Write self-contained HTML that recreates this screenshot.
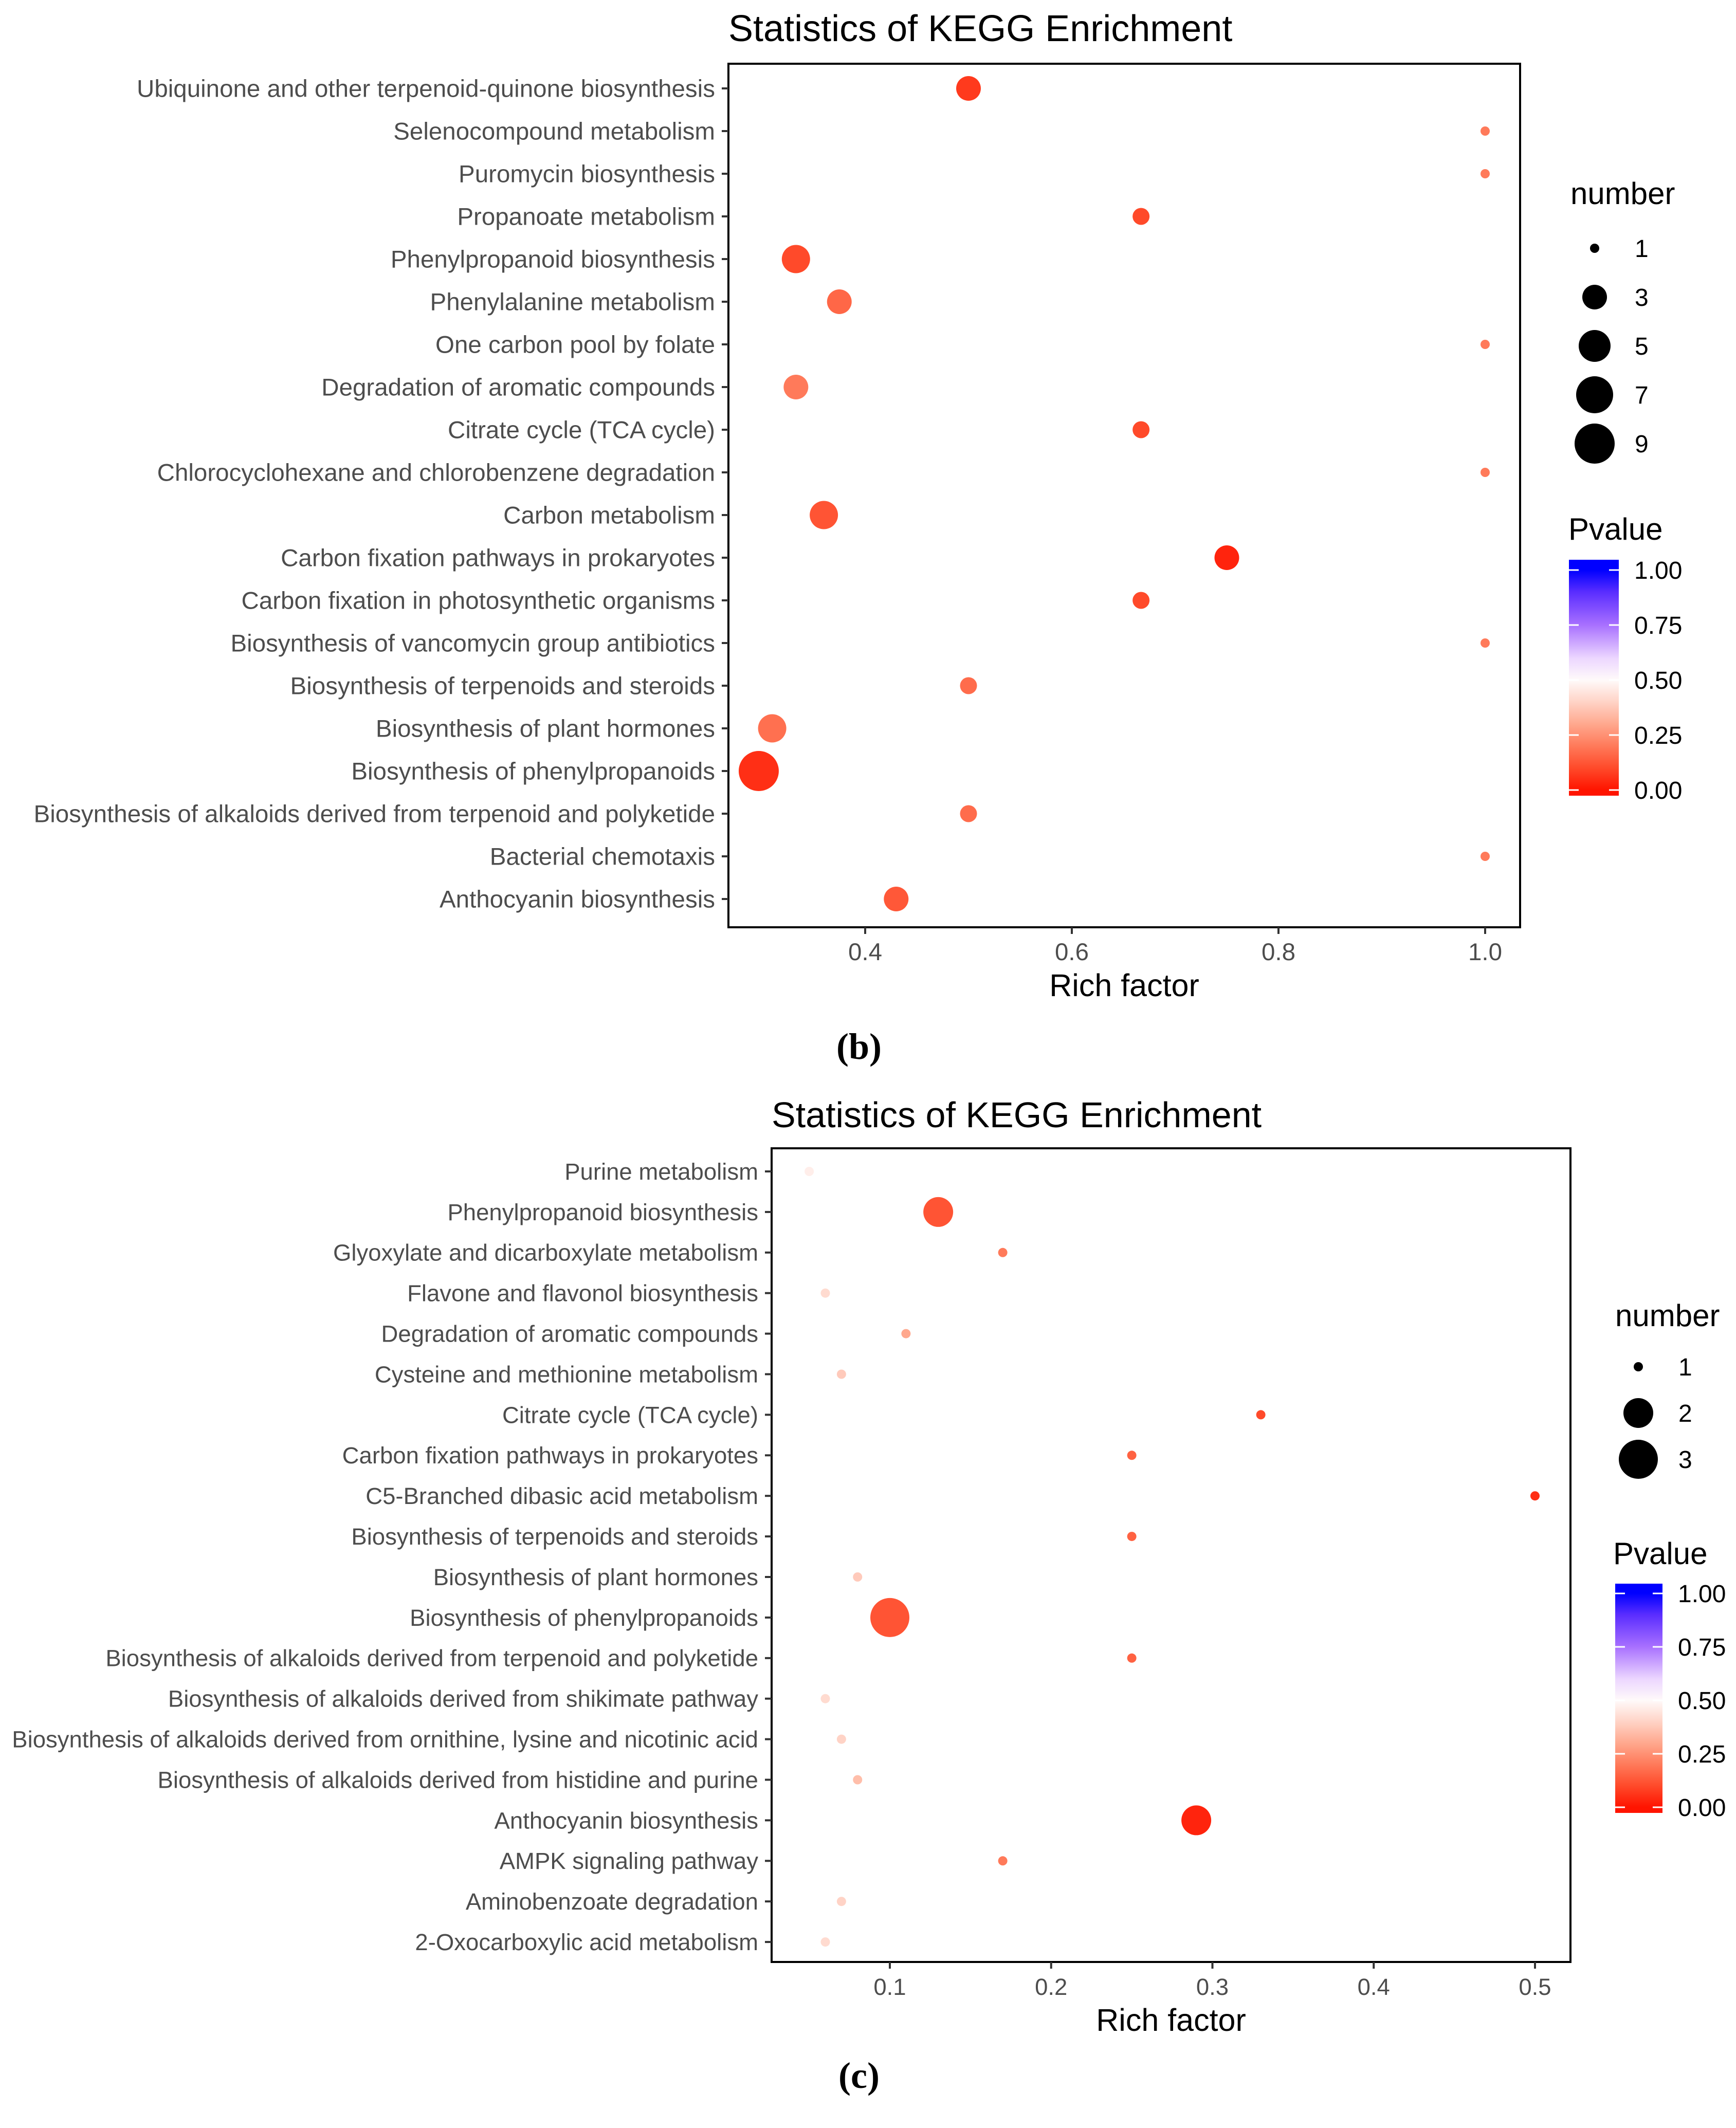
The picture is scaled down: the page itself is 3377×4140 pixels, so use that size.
<!DOCTYPE html>
<html><head><meta charset="utf-8"><style>
html,body{margin:0;padding:0;background:#fff;}
svg{display:block;font-family:"Liberation Sans",sans-serif;}
</style></head><body>
<svg id="root" width="3377" height="4140" viewBox="0 0 3377 4140" xmlns="http://www.w3.org/2000/svg">
<defs id="defs"></defs>
</svg>
<script>
const catsB=["Ubiquinone and other terpenoid-quinone biosynthesis","Selenocompound metabolism","Puromycin biosynthesis","Propanoate metabolism","Phenylpropanoid biosynthesis","Phenylalanine metabolism","One carbon pool by folate","Degradation of aromatic compounds","Citrate cycle (TCA cycle)","Chlorocyclohexane and chlorobenzene degradation","Carbon metabolism","Carbon fixation pathways in prokaryotes","Carbon fixation in photosynthetic organisms","Biosynthesis of vancomycin group antibiotics","Biosynthesis of terpenoids and steroids","Biosynthesis of plant hormones","Biosynthesis of phenylpropanoids","Biosynthesis of alkaloids derived from terpenoid and polyketide","Bacterial chemotaxis","Anthocyanin biosynthesis"];
const richB=[0.5,1.0,1.0,0.667,0.333,0.375,1.0,0.333,0.667,1.0,0.36,0.75,0.667,1.0,0.5,0.31,0.297,0.5,1.0,0.43];
const numB=[3,1,1,2,4,3,1,3,2,1,4,3,2,1,2,4,9,2,1,3];
const pB=[0.07,0.2,0.2,0.1,0.1,0.16,0.2,0.2,0.1,0.2,0.12,0.03,0.1,0.2,0.17,0.18,0.05,0.17,0.2,0.13];
const xTicksB=[0.4,0.6,0.8,1.0];
const xTickLabelsB=["0.4","0.6","0.8","1.0"];
const sizeBreaksB=[1,3,5,7,9];

const catsC=["Purine metabolism","Phenylpropanoid biosynthesis","Glyoxylate and dicarboxylate metabolism","Flavone and flavonol biosynthesis","Degradation of aromatic compounds","Cysteine and methionine metabolism","Citrate cycle (TCA cycle)","Carbon fixation pathways in prokaryotes","C5-Branched dibasic acid metabolism","Biosynthesis of terpenoids and steroids","Biosynthesis of plant hormones","Biosynthesis of phenylpropanoids","Biosynthesis of alkaloids derived from terpenoid and polyketide","Biosynthesis of alkaloids derived from shikimate pathway","Biosynthesis of alkaloids derived from ornithine, lysine and nicotinic acid","Biosynthesis of alkaloids derived from histidine and purine","Anthocyanin biosynthesis","AMPK signaling pathway","Aminobenzoate degradation","2-Oxocarboxylic acid metabolism"];
const richC=[0.05,0.13,0.17,0.06,0.11,0.07,0.33,0.25,0.5,0.25,0.08,0.10,0.25,0.06,0.07,0.08,0.29,0.17,0.07,0.06];
const numC=[1,2,1,1,1,1,1,1,1,1,1,3,1,1,1,1,2,1,1,1];
const pC=[0.47,0.12,0.2,0.42,0.3,0.38,0.1,0.15,0.05,0.15,0.38,0.12,0.15,0.42,0.4,0.35,0.03,0.2,0.4,0.42];
const xTicksC=[0.1,0.2,0.3,0.4,0.5];
const xTickLabelsC=["0.1","0.2","0.3","0.4","0.5"];
const sizeBreaksC=[1,2,3];
const pTicks=[0,0.25,0.5,0.75,1];
const pTickLabels=["0.00","0.25","0.50","0.75","1.00"];

const NS="http://www.w3.org/2000/svg";
const root=document.getElementById('root');
const defs=document.getElementById('defs');
function mk(tag,attrs,parent,text){const e=document.createElementNS(NS,tag);for(const k in attrs)e.setAttribute(k,attrs[k]);if(text!==undefined)e.textContent=text;(parent||root).appendChild(e);return e;}
function lerp(a,b,t){return Math.round(a+(b-a)*t);}
const cstops=[[0,[255,20,0]],[0.1,[255,74,42]],[0.2,[255,122,90]],[0.3,[255,168,142]],[0.4,[255,211,198]],[0.5,[255,250,250]],[0.6,[236,214,255]],[0.75,[168,112,255]],[0.9,[90,45,255]],[1,[0,0,255]]];
function pcolor(p){for(let i=0;i<cstops.length-1;i++){if(p<=cstops[i+1][0]){const t=(p-cstops[i][0])/(cstops[i+1][0]-cstops[i][0]);const a=cstops[i][1],b=cstops[i+1][1];return `rgb(${lerp(a[0],b[0],t)},${lerp(a[1],b[1],t)},${lerp(a[2],b[2],t)})`;}}return 'rgb(0,0,255)';}

function chart(cfg){
 const g=mk('g',{});
 
 
 const sx=v=>cfg.x0px+(v-cfg.x0v)*cfg.pxPerUnit;
 const sy=i=>cfg.y0+i*cfg.dy;
 const rOf=n=>{const t=cfg.sizeTable;for(let i=0;i<t.length-1;i++){if(n<=t[i+1][0]){const f=(n-t[i][0])/(t[i+1][0]-t[i][0]);return t[i][1]+(t[i+1][1]-t[i][1])*f;}}return t[t.length-1][1];};
 const title=mk('text',{x:cfg.L,y:cfg.titleY,'font-size':cfg.titleFs,fill:'#000'},g,"Statistics of KEGG Enrichment");
 
 
 const frame=mk('rect',{x:cfg.L,y:cfg.T,width:cfg.R-cfg.L,height:cfg.B-cfg.T,fill:'none',stroke:'#000','stroke-width':4},g);
 
 
 cfg.cats.forEach((c,i)=>{
  const y=sy(i);
  mk('line',{x1:cfg.L-13,x2:cfg.L,y1:y,y2:y,stroke:'#333','stroke-width':4},g);
  const t=mk('text',{x:cfg.L-26,y:y+cfg.labFs*0.35,'font-size':cfg.labFs,fill:'#4d4d4d','text-anchor':'end'},g,c);
  
  
 });
 cfg.xt.forEach((v,i)=>{
  const x=sx(v);
  mk('line',{x1:x,x2:x,y1:cfg.B,y2:cfg.B+13,stroke:'#333','stroke-width':4},g);
  const t=mk('text',{x:x,y:cfg.B+64,'font-size':cfg.labFs,fill:'#4d4d4d','text-anchor':'middle'},g,cfg.xtl[i]);
  
  
 });
 const xt=mk('text',{x:(cfg.L+cfg.R)/2,y:cfg.B+134,'font-size':61,fill:'#000','text-anchor':'middle'},g,"Rich factor");
 
 
 cfg.cats.forEach((c,i)=>{
  const d=mk('circle',{cx:sx(cfg.rich[i]),cy:sy(i),r:rOf(cfg.num[i]),fill:pcolor(cfg.p[i])},g);
  
  
 });
 const st=mk('text',{x:cfg.lgX,y:cfg.numTitleY,'font-size':60,fill:'#000'},g,"number");
 
 
 cfg.sizeBreaks.forEach((n,i)=>{
  const y=cfg.sizeYs[i];
  const c=mk('circle',{cx:cfg.lgCx,cy:y,r:rOf(n),fill:'#000'},g);
  
  
  const t=mk('text',{x:cfg.lgCx+78,y:y+17,'font-size':48,fill:'#000'},g,String(n));
  
  
 });
 const pt=mk('text',{x:cfg.lgX-4,y:cfg.pTitleY,'font-size':60,fill:'#000'},g,"Pvalue");
 
 
 const grad=mk('linearGradient',{id:cfg.name+'-grad',gradientUnits:'userSpaceOnUse',x1:0,x2:0,y1:cfg.cb0,y2:cfg.cb1},defs);
 cstops.forEach(s=>mk('stop',{offset:s[0],'stop-color':`rgb(${s[1][0]},${s[1][1]},${s[1][2]})`},grad));
 const bar=mk('rect',{x:cfg.cbX,y:cfg.cbT,width:cfg.cbW,height:cfg.cbB-cfg.cbT,fill:`url(#${cfg.name}-grad)`},g);
 
 
 pTicks.forEach((v,i)=>{
  const y=cfg.cb0+(cfg.cb1-cfg.cb0)*v;
  mk('line',{x1:cfg.cbX,x2:cfg.cbX+19,y1:y,y2:y,stroke:'#fff','stroke-width':3},g);
  mk('line',{x1:cfg.cbX+cfg.cbW-19,x2:cfg.cbX+cfg.cbW,y1:y,y2:y,stroke:'#fff','stroke-width':3},g);
  const t=mk('text',{x:cfg.cbX+cfg.cbW+30,y:y+17,'font-size':48,fill:'#000'},g,pTickLabels[i]);
  
  
 });
 const pl=mk('text',{x:1671,y:cfg.panelY,'font-size':72,'font-weight':'bold','font-family':'"Liberation Serif",serif','text-anchor':'middle',fill:'#000'},g,cfg.panel);
 
 
}

chart({name:'chart-b',cats:catsB,rich:richB,num:numB,p:pB,xt:xTicksB,xtl:xTickLabelsB,
 L:1417,R:2957,T:124,B:1804,x0v:0.4,x0px:1683,pxPerUnit:2010,y0:172,dy:83.0,
 titleY:80,titleFs:72,labFs:47.5,sizeTable:[[1,9],[3,24],[5,31],[7,36],[9,39]],
 sizeBreaks:sizeBreaksB,lgX:3055,lgCx:3102,numTitleY:397,sizeYs:[483,578,673,768,863],
 pTitleY:1050,cbX:3052,cbW:97,cbT:1089,cbB:1548,cb0:1537,cb1:1109,panel:'(b)',panelY:2060});

chart({name:'chart-c',cats:catsC,rich:richC,num:numC,p:pC,xt:xTicksC,xtl:xTickLabelsC,
 L:1501,R:3055,T:2234,B:3817,x0v:0.1,x0px:1731,pxPerUnit:3137.5,y0:2279,dy:78.9,
 titleY:2193,titleFs:70,labFs:45.5,sizeTable:[[1,9],[2,29],[3,38]],
 sizeBreaks:sizeBreaksC,lgX:3142,lgCx:3187,numTitleY:2580,sizeYs:[2659,2749,2839],
 pTitleY:3043,cbX:3142,cbW:92,cbT:3081,cbB:3527,cb0:3516,cb1:3100,panel:'(c)',panelY:4062});
</script>
</body></html>
